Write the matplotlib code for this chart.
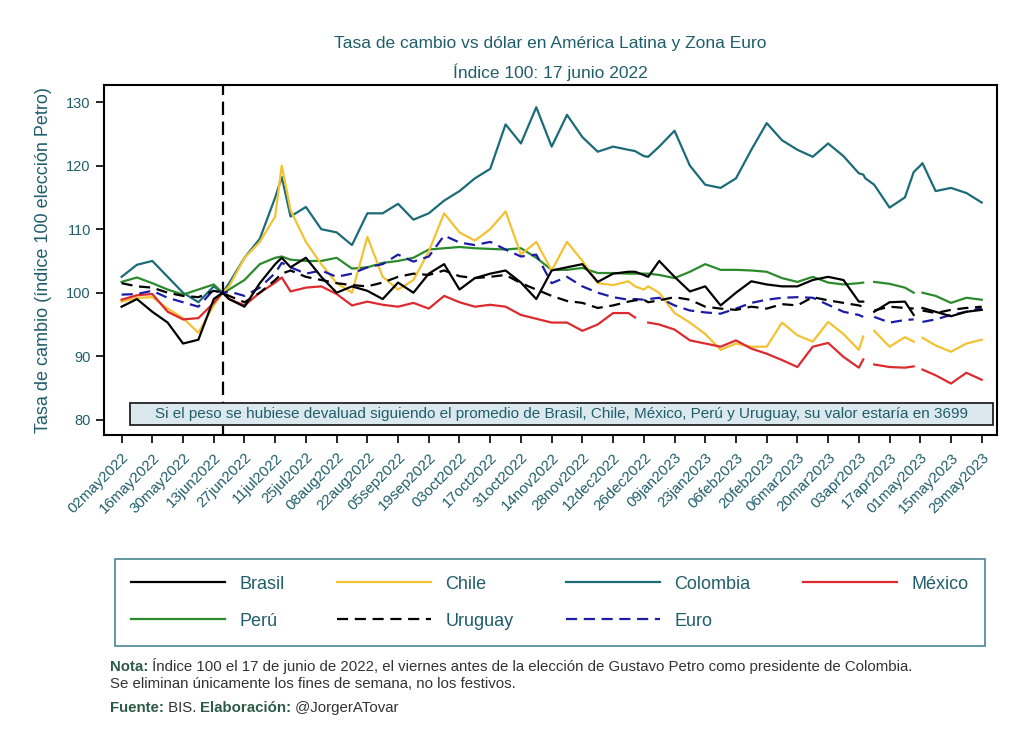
import numpy as np
import pandas as pd
import matplotlib
matplotlib.use("Agg")
import matplotlib.pyplot as plt
from matplotlib.patches import Rectangle

plt.rcParams['font.family'] = ['Liberation Sans', 'DejaVu Sans']

nan = np.nan

# weekly readings (Mondays) plus a few extra days around the peak and the holidays
dates = ['2022-05-02', '2022-05-09', '2022-05-16', '2022-05-23', '2022-05-30', '2022-06-06', '2022-06-13',
         '2022-06-17',
         '2022-06-20', '2022-06-27', '2022-07-04', '2022-07-11',
         '2022-07-14',
         '2022-07-18', '2022-07-25', '2022-08-01', '2022-08-08', '2022-08-15', '2022-08-22', '2022-08-29',
         '2022-09-05', '2022-09-12', '2022-09-19', '2022-09-26', '2022-10-03', '2022-10-10', '2022-10-17',
         '2022-10-24', '2022-10-31', '2022-11-07', '2022-11-14', '2022-11-21', '2022-11-28', '2022-12-05',
         '2022-12-12', '2022-12-19',
         '2022-12-22', '2022-12-26', '2022-12-28',
         '2023-01-02', '2023-01-09', '2023-01-16', '2023-01-23', '2023-01-30', '2023-02-06', '2023-02-13',
         '2023-02-20', '2023-02-27', '2023-03-06', '2023-03-13', '2023-03-20', '2023-03-27', '2023-04-03',
         '2023-04-05', '2023-04-06',
         '2023-04-10', '2023-04-17', '2023-04-24',
         '2023-04-28', '2023-05-01', '2023-05-02',
         '2023-05-08', '2023-05-15', '2023-05-22', '2023-05-29']

brasil = [97.8, 99.0, 97.0, 95.3, 92.0, 92.6, 99.0,
          100.0,
          99.0, 97.8, 101.5, 104.5,
          105.5,
          104.0, 105.5, 102.5, 100.0, 101.0, 100.3, 99.0, 101.6, 100.0, 103.0, 104.5, 100.5, 102.3, 103.0,
          103.5, 101.6, 99.0, 103.5, 104.0, 104.5, 101.7, 103.0, 103.3,
          103.3, 102.8, 102.5,
          105.0, 102.5, 100.2, 101.0, 98.0, 100.0, 101.8, 101.3, 101.0, 101.0, 102.0, 102.5, 102.0, 98.6,
          98.6, nan,
          97.0, 98.5, 98.6,
          96.5, nan, 97.6,
          97.0, 96.3, 97.0, 97.3]

chile = [98.6, 99.2, 99.3, 97.5, 96.0, 93.7, 98.0,
         100.0,
         101.0, 105.5, 108.0, 112.0,
         120.0,
         113.0, 108.0, 104.5, 101.5, 100.0, 108.8, 102.5, 100.5, 102.0, 106.5, 112.5, 109.5, 108.2, 110.0,
         112.8, 106.0, 108.0, 103.5, 108.0, 105.0, 101.5, 101.2, 101.8,
         101.0, 100.5, 101.0,
         100.0, 96.8, 95.3, 93.5, 91.0, 92.0, 91.5, 91.5, 95.3, 93.3, 92.3, 95.4, 93.5, 91.0,
         93.1, nan,
         94.0, 91.5, 93.0,
         92.3, nan, 92.9,
         91.7, 90.7, 92.0, 92.6]

colombia = [102.5, 104.4, 105.0, 102.5, 100.0, 98.5, 101.0,
            100.0,
            101.5, 105.5, 108.5, 115.0,
            118.2,
            112.0, 113.5, 110.0, 109.5, 107.5, 112.5, 112.5, 114.0, 111.5, 112.5, 114.5, 116.0, 118.0, 119.5,
            126.5, 123.5, 129.2, 123.0, 128.0, 124.5, 122.2, 123.0, 122.5,
            122.3, 121.5, 121.4,
            123.0, 125.5, 120.0, 117.0, 116.5, 118.0, 122.5, 126.7, 124.0, 122.5, 121.4, 123.5, 121.5, 118.8,
            118.6, 118.0,
            117.0, 113.4, 115.0,
            119.0, 120.0, 120.4,
            116.0, 116.5, 115.7, 114.2]

mexico = [98.9, 99.6, 99.8, 97.0, 95.8, 96.0, 98.4,
          100.0,
          99.0, 98.0, 100.0, 101.6,
          102.4,
          100.2, 100.8, 101.0, 99.8, 98.0, 98.6, 98.1, 97.8, 98.4, 97.5, 99.5, 98.5, 97.8, 98.1,
          97.8, 96.5, 95.9, 95.3, 95.3, 94.0, 95.0, 96.8, 96.8,
          96.1, nan, 95.3,
          95.0, 94.2, 92.5, 92.0, 91.5, 92.5, 91.2, 90.4, 89.4, 88.3, 91.5, 92.1, 89.9, 88.2,
          89.5, nan,
          88.7, 88.3, 88.2,
          88.4, nan, 87.9,
          87.0, 85.7, 87.4, 86.3]

peru = [101.7, 102.4, 101.5, 100.5, 99.7, 100.5, 101.3,
        100.0,
        100.5, 102.0, 104.5, 105.5,
        105.7,
        105.2, 105.0, 105.0, 105.5, 103.8, 104.0, 104.7, 105.0, 105.5, 106.8, 107.0, 107.2, 107.0, 106.9,
        106.8, 107.0, 105.5, 103.6, 103.6, 103.9, 103.1, 103.1, 103.0,
        103.0, 103.0, 103.0,
        102.8, 102.3, 103.3, 104.5, 103.6, 103.6, 103.5, 103.3, 102.3, 101.7, 102.5, 101.6, 101.3, 101.5,
        101.6, nan,
        101.7, 101.4, 100.8,
        100.0, nan, 100.0,
        99.5, 98.4, 99.2, 98.9]

uruguay = [101.5, 101.0, 100.8, 100.0, 99.5, 99.3, 100.3,
           100.0,
           99.5, 98.5, 100.0, 102.0,
           103.0,
           103.5, 102.5, 102.0, 101.5, 101.2, 101.0, 101.6, 102.5, 103.0, 102.8, 103.5, 102.6, 102.3, 102.5,
           102.8, 101.5, 100.5, 99.5, 98.7, 98.4, 97.6, 98.0, 98.6,
           98.8, 98.9, 98.5,
           98.8, 99.3, 98.9, 97.8, 97.5, 97.3, 97.8, 97.5, 98.2, 98.0, 99.3, 98.8, 98.4, 98.0,
           97.8, nan,
           97.2, 97.8, 97.6,
           97.5, nan, 97.2,
           96.8, 97.3, 97.6, 97.8]

euro = [99.7, 99.8, 100.3, 99.2, 98.5, 97.8, 100.5,
        100.0,
        100.2, 99.5, 100.8, 103.1,
        104.7,
        104.0, 103.0, 103.5, 102.5, 103.0, 104.0, 104.5, 106.0, 104.9, 105.7, 109.0, 107.9, 107.5, 108.0,
        106.8, 105.7, 106.0, 101.5, 102.5, 101.0, 100.0, 99.3, 98.9,
        99.0, 98.9, 99.0,
        99.2, 98.0, 97.2, 96.9, 96.7, 97.5, 98.4, 98.9, 99.2, 99.3, 99.2, 98.1, 97.0, 96.5,
        96.2, nan,
        96.2, 95.3, 95.7,
        95.8, nan, 95.4,
        95.8, 96.5, 97.0, 97.6]

election_day = '2022-06-17'
tick_start, tick_end = '2022-05-02', '2023-05-29'

teal = '#1f5e6a'
x = pd.to_datetime(dates)

fig = plt.figure(figsize=(10.24, 7.45), dpi=100)
ax = fig.add_axes([0.1016, 0.4161, 0.8721, 0.4698])

series = [
    ('Colombia', colombia, '#1b6b78', '-'),
    ('Perú', peru, '#2b8a2b', '-'),
    ('Chile', chile, '#f2c233', '-'),
    ('México', mexico, '#dd2a2f', '-'),
    ('Euro', euro, '#1c1ca6', (0, (5, 3))),
    ('Uruguay', uruguay, 'black', (0, (5, 3))),
    ('Brasil', brasil, 'black', '-'),
]
lines = {}
for name, vals, col, ls in series:
    ln, = ax.plot(x, vals, color=col, linestyle=ls, lw=1.6, label=name)
    lines[name] = ln

ax.axvline(pd.Timestamp(election_day), color='black', lw=1.6, linestyle=(0, (6, 3)))

ax.set_xlim(pd.Timestamp('2022-04-24'), pd.Timestamp('2023-06-05'))
ax.set_ylim(77.6, 132.7)
ax.set_yticks([80, 90, 100, 110, 120, 130])
ticks = pd.date_range(tick_start, tick_end, freq='14D')
ax.set_xticks(ticks)
ax.set_xticklabels([t.strftime('%d%b%Y').lower() for t in ticks], rotation=45, ha='right',
                   rotation_mode='anchor', fontsize=10.8, color=teal)
ax.tick_params(axis='y', labelsize=10.5, labelcolor=teal, length=6, width=1.2, direction='out')
ax.tick_params(axis='x', length=6, width=1.2, direction='out', pad=5)
for s in ax.spines.values():
    s.set_linewidth(1.5)
ax.set_ylabel('Tasa de cambio (índice 100 elección Petro)', fontsize=13, color=teal, labelpad=10)

# note box inside the plot
ax.add_patch(Rectangle((0.029, 0.0286), 0.9665, 0.0628, transform=ax.transAxes,
                       facecolor='#dbe8ee', edgecolor='#222222', lw=1.3, zorder=5))
ax.text(0.512, 0.06, 'Si el peso se hubiese devaluad siguiendo el promedio de Brasil, Chile, México, '
        'Perú y Uruguay, su valor estaría en 3699', transform=ax.transAxes, ha='center', va='center',
        fontsize=11, color=teal, zorder=6)

fig.text(0.537, 0.942, 'Tasa de cambio vs dólar en América Latina y Zona Euro', ha='center', va='center',
         fontsize=12.5, color=teal)
fig.text(0.537, 0.903, 'Índice 100: 17 junio 2022', ha='center', va='center', fontsize=12.5, color=teal)

order = ['Brasil', 'Perú', 'Chile', 'Uruguay', 'Colombia', 'Euro', 'México']
leg = fig.legend([lines[n] for n in order], order, loc='upper left', ncol=4,
                 bbox_to_anchor=(0.112, 0.139, 0.85, 0.11), mode='expand', fontsize=13,
                 handlelength=5.2, handletextpad=0.8, borderpad=0.9, labelspacing=1.1,
                 borderaxespad=0, fancybox=False, frameon=True)
leg.get_frame().set_edgecolor('#2f7280')
leg.get_frame().set_linewidth(1.3)
for t in leg.get_texts():
    t.set_color(teal)

note_col = '#333333'
lab_col = '#2d5a46'
fs = 10.8
t1 = fig.text(0.107, 0.095, 'Nota:', fontsize=fs, fontweight='bold', color=lab_col, va='bottom')
ax.annotate(' Índice 100 el 17 de junio de 2022, el viernes antes de la elección de Gustavo Petro como '
            'presidente de Colombia.', xy=(1, 0), xycoords=t1, va='bottom', fontsize=fs, color=note_col,
            annotation_clip=False)
fig.text(0.107, 0.072, 'Se eliminan únicamente los fines de semana, no los festivos.', fontsize=fs,
         color=note_col, va='bottom')
t2 = fig.text(0.107, 0.040, 'Fuente:', fontsize=fs, fontweight='bold', color=lab_col, va='bottom')
t3 = ax.annotate(' BIS. ', xy=(1, 0), xycoords=t2, va='bottom', fontsize=fs, color=note_col,
                 annotation_clip=False)
t4 = ax.annotate('Elaboración:', xy=(1, 0), xycoords=t3, va='bottom', fontsize=fs, fontweight='bold',
                 color=lab_col, annotation_clip=False)
ax.annotate(' @JorgerATovar', xy=(1, 0), xycoords=t4, va='bottom', fontsize=fs, color=note_col,
            annotation_clip=False)

fig.savefig('out.png', dpi=100)
